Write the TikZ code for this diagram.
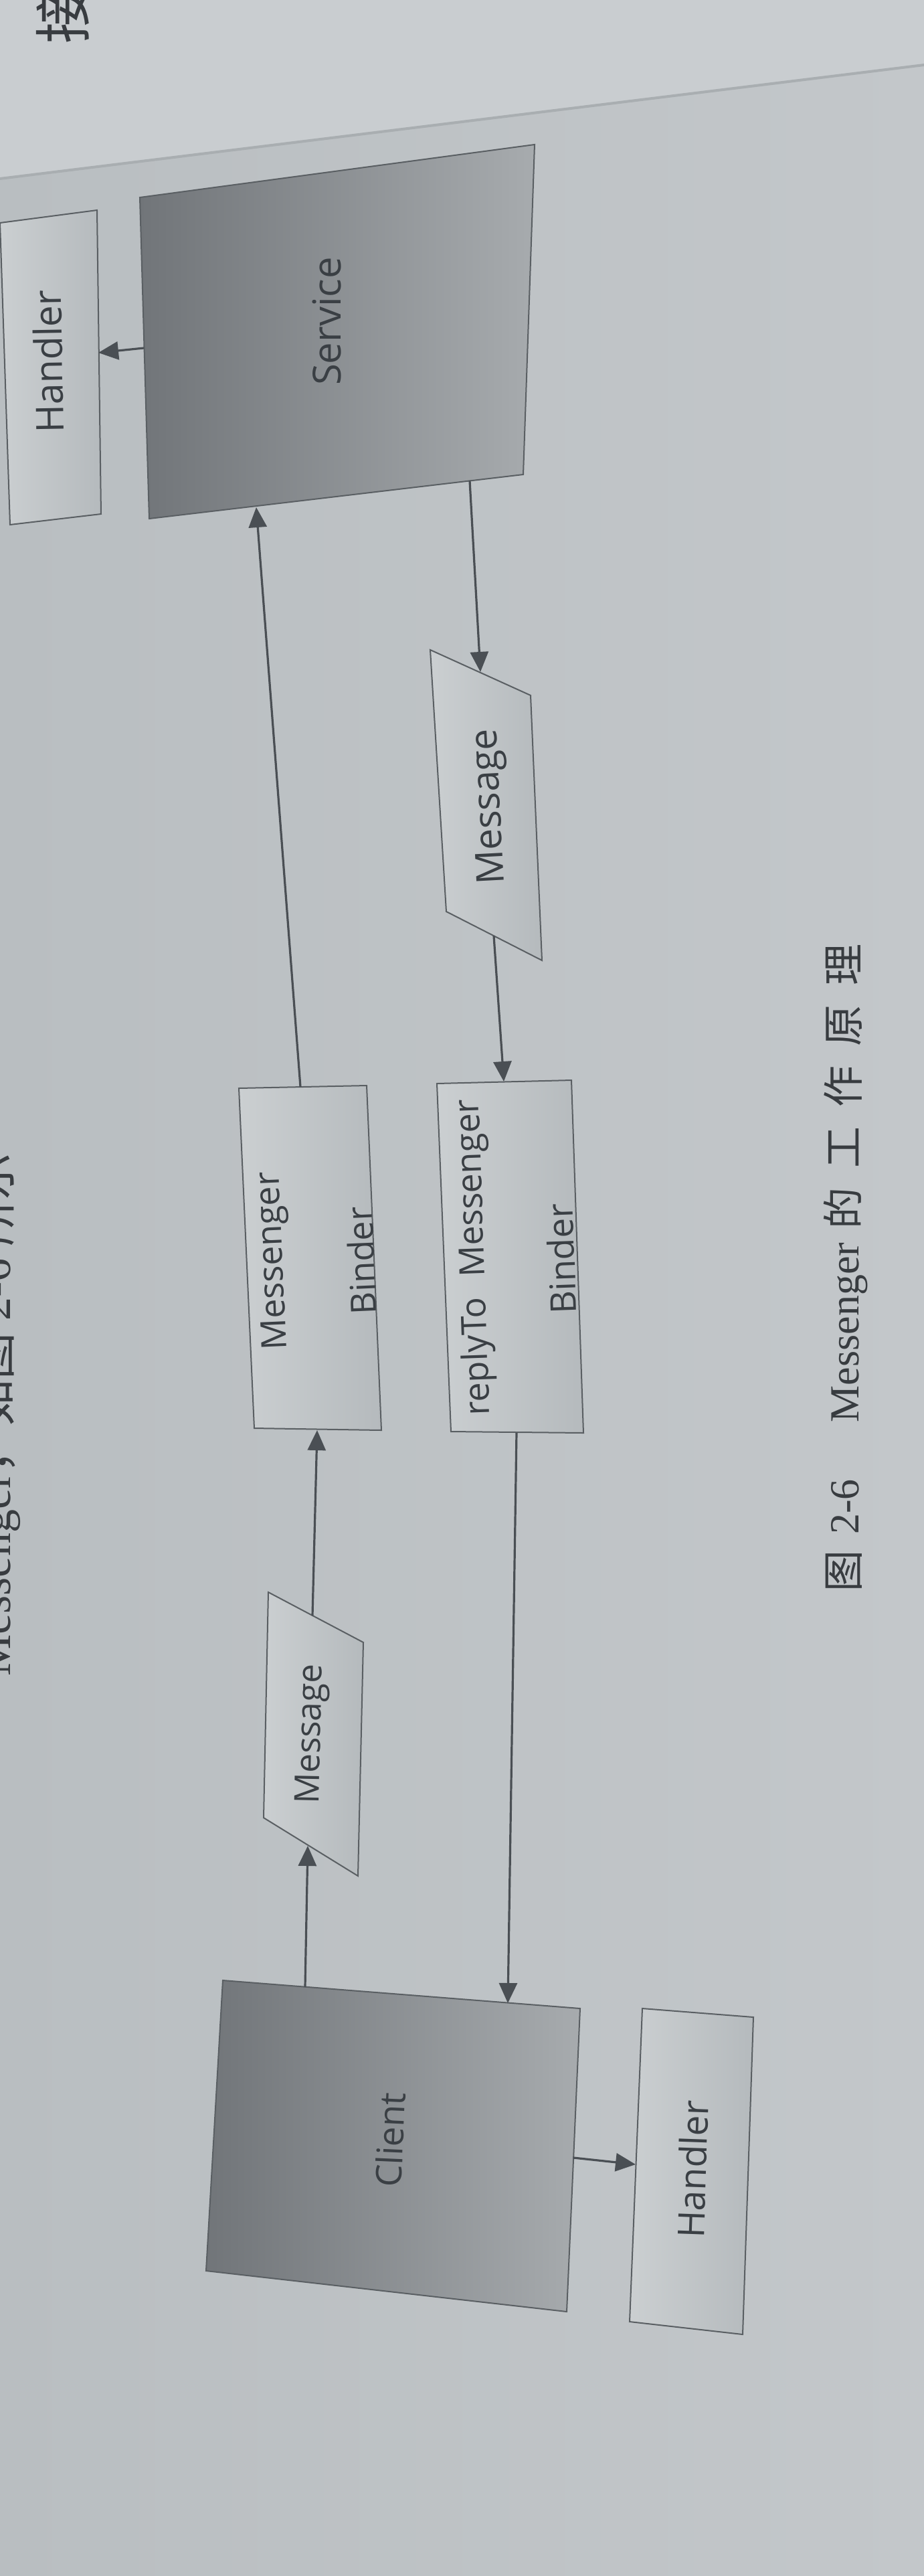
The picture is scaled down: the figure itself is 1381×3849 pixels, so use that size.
\documentclass[tikz,border=0pt]{standalone}
\usepackage{fontspec}
\setmainfont{Open Sans}
\newfontfamily\capserif{Liberation Serif}
\newfontfamily\cjk{Noto Sans CJK SC}
\usetikzlibrary{arrows.meta,calc}
\definecolor{bgL}{HTML}{B9BEC1}
\definecolor{bgR}{HTML}{C3C7CA}
\definecolor{bgtop}{HTML}{C9CDD0}
\definecolor{pageedge}{HTML}{A9AEB1}
\definecolor{ink}{HTML}{3A3F44}
\definecolor{capink}{HTML}{383C40}
\definecolor{wire}{HTML}{4A4F54}
\definecolor{dkL}{HTML}{717579}
\definecolor{dkR}{HTML}{A7ABAE}
\definecolor{ltL}{HTML}{CBCFD1}
\definecolor{ltR}{HTML}{B5BABD}
\definecolor{outline}{HTML}{5A5F63}
\begin{document}
\begin{tikzpicture}[x=1pt,y=-1pt,
  darkbox/.style={draw=outline, line width=2pt, line join=miter, left color=dkL, right color=dkR},
  lightbox/.style={draw=outline, line width=2pt, line join=miter, left color=ltL, right color=ltR},
  lbl/.style={text=ink, inner sep=0pt},
  conn/.style={draw=wire, line width=3.2pt, -{Triangle[length=30pt,width=27pt]}},
]
\useasboundingbox (0,0) rectangle (1381,3849);
\clip (0,0) rectangle (1381,3849);
% page background
\fill[left color=bgL, right color=bgR] (0,0) rectangle (1381,3849);
\coordinate (pgA) at (0,267);
\coordinate (pgB) at (1381,97);
\fill[bgtop] (0,0) -- (1381,0) -- (pgB) -- (pgA) -- cycle;
\draw[pageedge, line width=4pt] (pgA) -- (pgB);
\node[rotate=90, text=capink, inner sep=0pt, font=\cjk\fontsize{86}{90}\selectfont] (jie) at (94,22) {接};
\node[rotate=90, anchor=base east, inner sep=0pt, text=capink, font=\fontsize{70}{80}\selectfont] (prevline) at (16,1722)
  {{\capserif Messenger}{\cjk ，如图}\hspace{18pt}{\capserif 2-6}\hspace{18pt}{\cjk 所示}};

% ---------- boxes ----------
% Handler (top)
\coordinate (h1TL) at (0,333);   \coordinate (h1TR) at (145,314);
\coordinate (h1BR) at (151,768); \coordinate (h1BL) at (15,784);
\path[lightbox] (h1TL) -- (h1TR) -- (h1BR) -- (h1BL) -- cycle;
\node[lbl, rotate=91, font=\fontsize{57}{60}\selectfont] (handlerA) at (72,540) {Handler};

% Service
\coordinate (svTL) at (209,295); \coordinate (svTR) at (799,216);
\coordinate (svBR) at (782,709); \coordinate (svBL) at (223,775);
\path[darkbox] (svTL) -- (svTR) -- (svBR) -- (svBL) -- cycle;
\node[lbl, rotate=90, font=\fontsize{58}{60}\selectfont] (service) at (488,480) {Service};

% Message (upper)
\coordinate (m2TL) at (643,971);  \coordinate (m2TR) at (793,1039);
\coordinate (m2BR) at (810,1435); \coordinate (m2BL) at (667,1362);
\path[lightbox] (m2TL) -- (m2TR) -- (m2BR) -- (m2BL) -- cycle;
\node[lbl, rotate=93, font=\fontsize{57}{60}\selectfont] (msgB) at (734,1205) {Message};

% Messenger Binder
\coordinate (mbTL) at (357,1626); \coordinate (mbTR) at (548,1622);
\coordinate (mbBR) at (570,2137); \coordinate (mbBL) at (380,2134);
\path[lightbox] (mbTL) -- (mbTR) -- (mbBR) -- (mbBL) -- cycle;
\node[lbl, rotate=92.5, font=\fontsize{52}{60}\selectfont] (mbA) at (410,1884) {Messenger};
\node[lbl, rotate=92.5, font=\fontsize{52}{60}\selectfont] (mbB) at (540,1884) {Binder};

% replyTo Messenger Binder
\coordinate (rtTL) at (653,1619); \coordinate (rtTR) at (854,1614);
\coordinate (rtBR) at (872,2141); \coordinate (rtBL) at (674,2139);
\path[lightbox] (rtTL) -- (rtTR) -- (rtBR) -- (rtBL) -- cycle;
\node[lbl, rotate=92, font=\fontsize{52}{60}\selectfont] (rtA) at (710,1879) {replyTo\hspace{30pt}Messenger};
\node[lbl, rotate=92, font=\fontsize{53}{60}\selectfont] (rtB) at (839,1881) {Binder};

% Message (lower)
\coordinate (m1TL) at (401,2379); \coordinate (m1TR) at (543,2454);
\coordinate (m1BR) at (535,2803); \coordinate (m1BL) at (394,2716);
\path[lightbox] (m1TL) -- (m1TR) -- (m1BR) -- (m1BL) -- cycle;
\node[lbl, rotate=88.8, font=\fontsize{51}{60}\selectfont] (msgA) at (467,2591) {Message};

% Client
\coordinate (clTL) at (333,2959); \coordinate (clTR) at (867,3001);
\coordinate (clBR) at (847,3454); \coordinate (clBL) at (308,3393);
\path[darkbox] (clTL) -- (clTR) -- (clBR) -- (clBL) -- cycle;
\node[lbl, rotate=87.5, font=\fontsize{53}{60}\selectfont] (client) at (583,3197) {Client};

% Handler (bottom)
\coordinate (h2TL) at (960,3001);  \coordinate (h2TR) at (1126,3014);
\coordinate (h2BR) at (1110,3488); \coordinate (h2BL) at (941,3469);
\path[lightbox] (h2TL) -- (h2TR) -- (h2BR) -- (h2BL) -- cycle;
\node[lbl, rotate=88, font=\fontsize{55}{60}\selectfont] (handlerB) at (1035,3241) {Handler};

% ---------- connector ends ----------
\coordinate (svW)  at (215,520);  \coordinate (h1E)  at (147,527);
\coordinate (mbN)  at (449,1624); \coordinate (svS1) at (383,758);
\coordinate (svS2) at (702,718);  \coordinate (m2N)  at (718,1004);
\coordinate (m2S)  at (738,1398); \coordinate (rtN)  at (753,1616);
\coordinate (m1N)  at (467,2414); \coordinate (mbS)  at (474,2137);
\coordinate (clN1) at (456,2969); \coordinate (m1S)  at (460,2758);
\coordinate (rtS)  at (772,2141); \coordinate (clN2) at (759,2993);
\coordinate (clE)  at (857,3224); \coordinate (h2W)  at (950,3234);

\draw[conn] (svW) -- (h1E);
\draw[conn] (mbN) -- (svS1);
\draw[conn] (svS2) -- (m2N);
\draw[conn] (m2S) -- (rtN);
\draw[conn] (m1N) -- (mbS);
\draw[conn] (clN1) -- (m1S);
\draw[conn] (rtS) -- (clN2);
\draw[conn] (clE) -- (h2W);

% ---------- caption ----------
\node[rotate=90, anchor=base west, inner sep=0pt, text=capink, font=\fontsize{62}{70}\selectfont] (caption) at (1283,2379)
  {{\cjk 图}\hspace{24pt}{\capserif 2-6}\hspace{85pt}{\capserif Messenger}\hspace{20pt}{\cjk 的\hspace{29pt}工\hspace{29pt}作\hspace{29pt}原\hspace{29pt}理}};
\end{tikzpicture}
\end{document}
